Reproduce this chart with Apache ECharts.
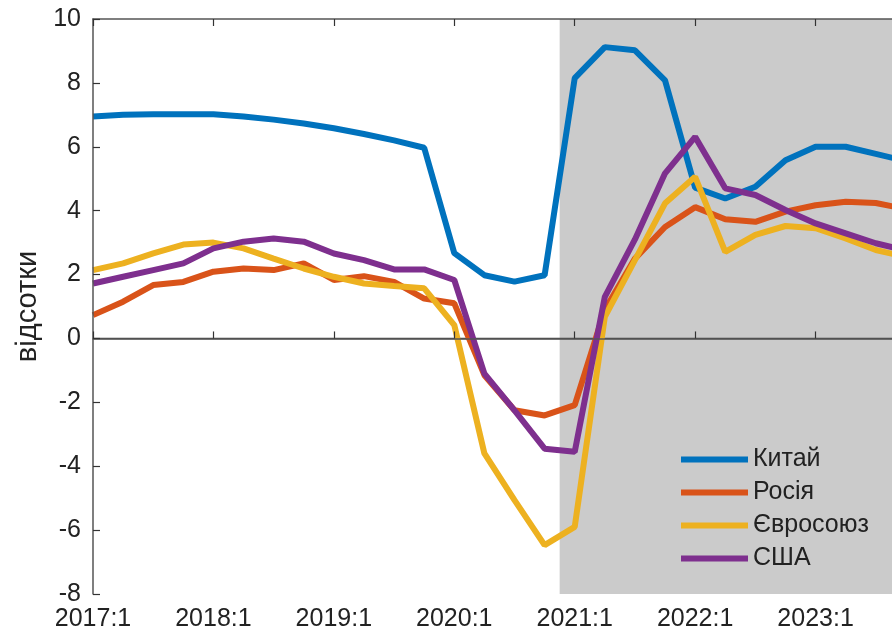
<!DOCTYPE html>
<html>
<head>
<meta charset="utf-8">
<script src="https://cdn.jsdelivr.net/npm/echarts@6/dist/echarts.min.js"></script>
<style>html,body{margin:0;padding:0;background:#fff;overflow:hidden;}#c{width:892px;height:631px;}</style>
</head>
<body>
<div id="c"></div>
<script>
// quarter index 0 = 2017:1
const tickLabels = ['2017:1','2018:1','2019:1','2020:1','2021:1','2022:1','2023:1','2024:1'];
const china = [6.95,7.0,7.02,7.02,7.02,6.95,6.85,6.73,6.58,6.4,6.2,5.97,2.67,1.98,1.78,1.98,8.15,9.12,9.02,8.08,4.72,4.38,4.75,5.58,6.0,6.0,5.78,5.55];
const russia = [0.73,1.15,1.67,1.77,2.09,2.19,2.14,2.35,1.83,1.95,1.77,1.25,1.1,-1.15,-2.25,-2.41,-2.09,0.9,2.5,3.49,4.11,3.73,3.65,3.97,4.17,4.28,4.24,4.05];
const eu = [2.14,2.35,2.66,2.94,3.0,2.82,2.5,2.19,1.93,1.72,1.64,1.57,0.42,-3.6,-5.06,-6.47,-5.9,0.68,2.45,4.23,5.06,2.71,3.24,3.52,3.45,3.13,2.77,2.55];
const usa = [1.72,1.93,2.14,2.35,2.82,3.03,3.13,3.03,2.66,2.45,2.16,2.16,1.83,-1.1,-2.25,-3.45,-3.55,1.3,3.1,5.17,6.31,4.7,4.49,4.02,3.6,3.29,2.98,2.75];
const names = ['Китай','Росія','Євросоюз','США'];
const colors = ['#0072BD','#D95319','#EDB120','#7E2F8E'];
const shadeStart = 15.5, xMin = 0, xMax = 28;

const toPts = arr => arr.map((v,i)=>[i,v]);
const font = 'Liberation Sans, Arial, sans-serif';
const chart = echarts.init(document.getElementById('c'));
const lineSeries = [china,russia,eu,usa].map((d,k)=>({
  name: names[k], type:'line', data: toPts(d), symbol:'none', z:3,
  lineStyle:{width:6,color:colors[k]}, itemStyle:{color:colors[k]}, clip:true
}));
const axisLineStyle = {color:'#555', width:1.5};
chart.setOption({
  animation:false,
  grid:{left:93, top:19, bottom:37, width:843, containLabel:false, outerBoundsMode:'none'},
  xAxis:[{
    type:'value', min:xMin, max:xMax, interval:4, position:'bottom', z:4,
    axisLine:{show:true, lineStyle:axisLineStyle},
    axisTick:{show:true, inside:true, length:7, lineStyle:{color:'#333',width:1.2}},
    axisLabel:{fontFamily:font, fontSize:25, color:'#222', margin:13,
      formatter: v => (v % 4 === 0 ? tickLabels[v/4] : '')},
    splitLine:{show:false}
  },{
    type:'value', min:xMin, max:xMax, interval:4, position:'top', z:4,
    axisLine:{show:true, lineStyle:axisLineStyle},
    axisTick:{show:true, inside:true, length:7, lineStyle:{color:'#333',width:1.2}},
    axisLabel:{show:false}, splitLine:{show:false}
  }],
  yAxis:{
    type:'value', min:-8, max:10, interval:2, z:4,
    name:'відсотки', nameLocation:'middle', nameGap:46,
    nameTextStyle:{fontFamily:font, fontSize:29, color:'#222'},
    axisLine:{show:true, lineStyle:axisLineStyle},
    axisTick:{show:true, inside:true, length:7, lineStyle:{color:'#333',width:1.2}},
    axisLabel:{fontFamily:font, fontSize:25, color:'#222', margin:12},
    splitLine:{show:false}
  },
  legend:{
    data:names, orient:'vertical', left:681, top:447, itemWidth:67, itemHeight:6,
    itemGap:8, icon:'rect', padding:0,
    textStyle:{fontFamily:font, fontSize:25, color:'#222', padding:[0,0,0,0]}
  },
  series:[{
    name:'_bg', type:'line', data:[], z:1,
    markArea:{silent:true, z:1, itemStyle:{color:'#CBCBCB'}, data:[[{xAxis:shadeStart},{xAxis:xMax}]]},
    markLine:{silent:true, z:1.5, symbol:'none', label:{show:false},
      lineStyle:{color:'#444', width:1.3, type:'solid'}, data:[{yAxis:0}]}
  }].concat(lineSeries)
});
</script>
</body>
</html>
